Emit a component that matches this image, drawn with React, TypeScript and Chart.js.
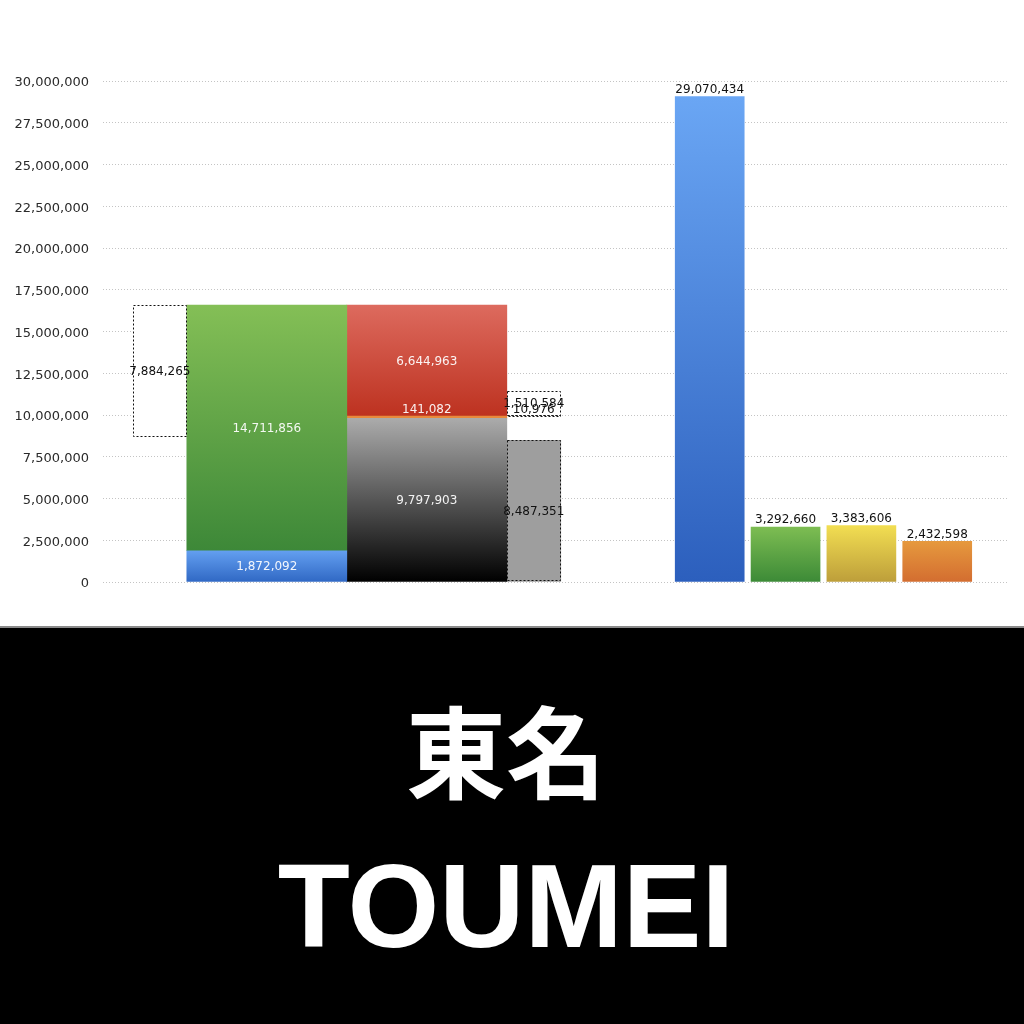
import { useEffect, useRef } from "react";
import { Chart, registerables } from "chart.js";

Chart.register(...registerables);

// 貸借対照表 — segments listed bottom to top
const assetSegments = [1872092, 14711856];
const liabilitySegments = [9797903, 141082, 6644963];
const leftGapSegments = [7884265];
const rightGapSegments = [10976, 1510584];
const rightBaseSegments = [8487351];

// 損益計算書
const plLabels = ["売上高", "売上総利益", "営業利益", "経常利益"];
const plValues = [29070434, 3292660, 3383606, 2432598];

// y axis
const yMax = 30000000;
const yStep = 2500000;

const plTop = ["#6aa6f4", "#7dbd52", "#f2de52", "#e6993e"];
const plBottom = ["#2c5fbd", "#3c8a37", "#bd9e3a", "#d36d30"];

const sum = (arr: number[]) => arr.reduce((a, b) => a + b, 0);

function stackRanges(values: number[], start = 0) {
  let acc = start;
  return values.map((v) => {
    const r = [acc, acc + v];
    acc += v;
    return r;
  });
}

function vGradient(top: string | ((i: number) => string), bottom: string | ((i: number) => string)) {
  return (c: any) => {
    const t = typeof top === "function" ? top(c.dataIndex) : top;
    const b = typeof bottom === "function" ? bottom(c.dataIndex) : bottom;
    const chart = c.chart;
    if (c.type !== "data" || !c.raw || !chart.chartArea) return b;
    const y = chart.scales.y;
    const [lo, hi] = c.raw.y;
    const g = chart.ctx.createLinearGradient(0, y.getPixelForValue(hi), 0, y.getPixelForValue(lo));
    g.addColorStop(0, t);
    g.addColorStop(1, b);
    return g;
  };
}

// dashed outlines + value labels
const overlayPlugin = {
  id: "overlay",
  afterDatasetsDraw(chart: any) {
    const { ctx } = chart;
    ctx.save();
    chart.data.datasets.forEach((ds: any, i: number) => {
      if (!ds.dashed) return;
      chart.getDatasetMeta(i).data.forEach((bar: any) => {
        const { x, y, base, width } = bar.getProps(["x", "y", "base", "width"], true);
        ctx.setLineDash([2, 2]);
        ctx.strokeStyle = "#111";
        ctx.lineWidth = 1;
        ctx.strokeRect(Math.round(x - width / 2) + 0.5, Math.round(y) + 0.5, Math.round(width) - 1, Math.round(base - y) - 1);
      });
    });
    ctx.setLineDash([]);
    ctx.font = "12px 'DejaVu Sans'";
    ctx.textAlign = "center";
    chart.data.datasets.forEach((ds: any, i: number) => {
      chart.getDatasetMeta(i).data.forEach((bar: any, j: number) => {
        const [lo, hi] = ds.data[j].y;
        const text = Math.round(hi - lo).toLocaleString("en-US");
        const { x, y, base } = bar.getProps(["x", "y", "base"], true);
        ctx.fillStyle = ds.labelColor;
        if (ds.labelTop || Math.abs(base - y) < 12) {
          ctx.textBaseline = "bottom";
          ctx.fillText(text, x, y - (ds.labelTop ? 1 : 0));
        } else {
          ctx.textBaseline = "middle";
          ctx.fillText(text, x, (y + base) / 2 + 1);
        }
      });
    });
    ctx.restore();
  },
};

export default function App() {
  const canvasRef = useRef<HTMLCanvasElement | null>(null);
  const chartRef = useRef<Chart | null>(null);

  useEffect(() => {
    if (!canvasRef.current) return;
    if (chartRef.current) chartRef.current.destroy();

    // column centres on the hidden x scale
    const col = { leftGap: 0.75, assets: 2.16, liabilities: 4.27, rightGap: 5.68, pl: [8, 9, 10, 11] };
    const wide = 160;
    const narrow = 54;

    const assetRanges = stackRanges(assetSegments);
    const liabRanges = stackRanges(liabilitySegments);
    const total = sum(assetSegments);
    const leftGapRanges = stackRanges(leftGapSegments, total - sum(leftGapSegments));
    const rightGapRanges = stackRanges(rightGapSegments, sum(liabilitySegments.slice(0, 2)));
    const rightBaseRanges = stackRanges(rightBaseSegments);

    const seg = (label: string, x: number, range: number[], fill: any, thickness: number, extra: any = {}) => ({
      label,
      data: [{ x, y: range }],
      backgroundColor: fill,
      barThickness: thickness,
      grouped: false,
      labelColor: "rgba(255,255,255,0.93)",
      ...extra,
    });

    const datasets: any[] = [
      seg("資産1", col.assets, assetRanges[0], vGradient("#639ff0", "#3068c4"), wide),
      seg("資産2", col.assets, assetRanges[1], vGradient("#84bf56", "#3d8838"), wide),
      seg("純資産", col.liabilities, liabRanges[0], vGradient("#ababab", "#000000"), wide),
      seg("負債1", col.liabilities, liabRanges[1], "#e88a3c", wide),
      seg("負債2", col.liabilities, liabRanges[2], vGradient("#dd6a5e", "#bd3220"), wide),
      seg("差額1", col.leftGap, leftGapRanges[0], "#ffffff", narrow, { dashed: true, labelColor: "#111" }),
      seg("差額2", col.rightGap, rightGapRanges[0], "#ffffff", narrow, { dashed: true, labelColor: "#111" }),
      seg("差額3", col.rightGap, rightGapRanges[1], "#ffffff", narrow, { dashed: true, labelColor: "#111" }),
      seg("差額4", col.rightGap, rightBaseRanges[0], "#9e9e9e", narrow, { dashed: true, labelColor: "#111" }),
      {
        label: "損益",
        data: plValues.map((v, i) => ({ x: col.pl[i], y: [0, v], name: plLabels[i] })),
        backgroundColor: vGradient((i) => plTop[i], (i) => plBottom[i]),
        barThickness: 69,
        grouped: false,
        labelColor: "#111",
        labelTop: true,
      },
    ];

    chartRef.current = new Chart(canvasRef.current, {
      type: "bar",
      data: { datasets },
      plugins: [overlayPlugin],
      options: {
        animation: false,
        responsive: true,
        maintainAspectRatio: false,
        layout: { padding: { top: 81, right: 17, bottom: 44, left: 0 } },
        plugins: { legend: { display: false }, tooltip: { enabled: false } },
        scales: {
          x: { type: "linear", display: false, min: 0, max: 11.92, offset: false, grid: { display: false } },
          y: {
            min: 0,
            max: yMax,
            ticks: {
              stepSize: yStep,
              padding: 14,
              labelOffset: 2,
              color: "#2a2a2a",
              font: { family: "'DejaVu Sans'", size: 13 },
              callback: (v: any) => Number(v).toLocaleString("en-US"),
            },
            grid: { color: "#c4c4c4", lineWidth: 1, drawTicks: false },
            border: { display: false, dash: [1, 2] },
            afterFit: (axis: any) => {
              axis.width = 103;
            },
          },
        },
      },
    } as any);

    return () => {
      chartRef.current?.destroy();
    };
  }, []);

  return (
    <div style={{ position: "absolute", left: 0, top: 0, width: 1024, height: 1024, background: "#fff", overflow: "hidden" }}>
      <div style={{ position: "absolute", left: 0, top: 0, width: 1024, height: 626 }}>
        <canvas ref={canvasRef} />
      </div>
      <div
        style={{
          position: "absolute",
          left: 0,
          top: 626,
          width: 1024,
          height: 398,
          boxSizing: "border-box",
          borderTop: "2px solid #8a8a8a",
          background: "#000",
          color: "#fff",
        }}
      >
        <div
          style={{
            position: "absolute",
            left: -6,
            top: 70,
            width: 1024,
            textAlign: "center",
            fontFamily: "'Noto Sans CJK JP'",
            fontWeight: 700,
            fontSize: 100,
            lineHeight: "100px",
          }}
        >
          東名
        </div>
        <div
          style={{
            position: "absolute",
            left: -6,
            top: 219,
            width: 1024,
            textAlign: "center",
            fontFamily: "'Liberation Sans'",
            fontWeight: 700,
            fontSize: 118,
            lineHeight: "118px",
          }}
        >
          TOUMEI
        </div>
      </div>
    </div>
  );
}
